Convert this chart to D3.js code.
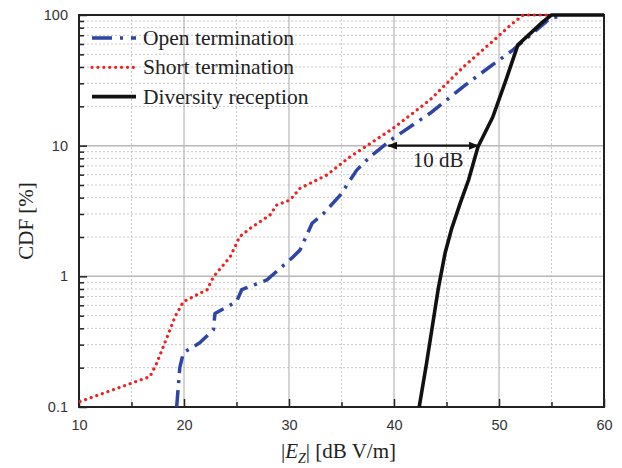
<!DOCTYPE html>
<html lang="en">
<head>
<meta charset="utf-8">
<title>CDF of Ez</title>
<script src="https://d3js.org/d3.v7.min.js"></script>
<style>
  body { margin: 0; background: #fff; }
  svg { display: block; }
</style>
</head>
<body>
<div class="chart"></div>
<script>
// series: field strength (dB V/m) and CDF (%)
const openX  = [19.3, 19.6, 19.94, 21.5, 22.8, 22.95, 25.0, 25.5, 27.9, 30.4, 31.05, 32.2, 33.3, 34.9, 36.45, 37.7, 39.93, 43.43, 46.6, 49.1, 51.2, 54.86, 56.2];
const openY  = [0.1, 0.2, 0.26, 0.31, 0.39, 0.52, 0.64, 0.79, 0.94, 1.41, 1.59, 2.55, 3.03, 4.2, 6.5, 8.2, 11.4, 17.7, 28.3, 40, 53, 94, 100];
const shortX = [10.1, 16.76, 17.4, 18.67, 19.14, 19.94, 22.2, 22.8, 24.4, 25.3, 26.3, 28.2, 28.8, 30.1, 31.05, 33.6, 35.8, 39.93, 43.43, 46.6, 49.5, 51.05, 52.3, 55.0];
const shortY = [0.11, 0.171, 0.216, 0.39, 0.49, 0.64, 0.79, 0.99, 1.41, 2.01, 2.33, 2.95, 3.5, 3.84, 4.72, 5.96, 8.2, 13.6, 22.4, 40, 64, 83, 100, 100];
const divX   = [42.4, 43.1, 44.2, 44.86, 45.5, 46.3, 47.1, 48.0, 49.4, 50.7, 51.8, 54.2, 55.0, 60];
const divY   = [0.1, 0.216, 0.79, 1.5, 2.33, 3.62, 5.46, 9.8, 16.5, 32.5, 59, 89, 100, 100];

const seriesNames = ['Open termination', 'Short termination', 'Diversity reception'];
const xTicks = [10, 20, 30, 40, 50, 60];
const yTicks = [0.1, 1, 10, 100];
const arrowFrom = 39.45, arrowTo = 48.0, arrowLevel = 10;

const width = 622, height = 468;
const margin = {left: 79, right: 18, top: 15, bottom: 61};

const svg = d3.select('.chart').append('svg')
    .attr('width', width)
    .attr('height', height);

const x = d3.scaleLinear().domain([10, 60]).range([margin.left, width - margin.right]);
const y = d3.scaleLog().domain([0.1, 100]).range([height - margin.bottom, margin.top]);

const x0 = x.range()[0], x1 = x.range()[1];
const y0 = y.range()[0], y1 = y.range()[1];

// grid
const minorX = d3.range(15, 60, 10);
const majorX = [20, 30, 40, 50];
let minorY = [];
[0.1, 1, 10].forEach(d => { for (let k = 2; k <= 9; k++) minorY.push(d * k); });

svg.append('g').selectAll('line').data(minorX).join('line')
    .attr('x1', d => x(d)).attr('x2', d => x(d)).attr('y1', y1).attr('y2', y0)
    .attr('stroke', '#c8c8c8').attr('stroke-width', 1).attr('stroke-dasharray', '2,2');
svg.append('g').selectAll('line').data(minorY).join('line')
    .attr('x1', x0).attr('x2', x1).attr('y1', d => y(d)).attr('y2', d => y(d))
    .attr('stroke', '#c8c8c8').attr('stroke-width', 1).attr('stroke-dasharray', '2,2');
svg.append('g').selectAll('line').data(majorX).join('line')
    .attr('x1', d => x(d)).attr('x2', d => x(d)).attr('y1', y1).attr('y2', y0)
    .attr('stroke', '#a8a8a8').attr('stroke-width', 1);
svg.append('g').selectAll('line').data([1, 10]).join('line')
    .attr('x1', x0).attr('x2', x1).attr('y1', d => y(d)).attr('y2', d => y(d))
    .attr('stroke', '#b8b8b8').attr('stroke-width', 1.5);

// axes
const xAxis = svg.append('g')
    .attr('transform', `translate(0,${y0})`)
    .call(d3.axisBottom(x).tickValues(xTicks).tickSize(-8).tickPadding(13).tickFormat(d3.format('d')));
const xMinor = svg.append('g')
    .attr('transform', `translate(0,${y0})`)
    .call(d3.axisBottom(x).tickValues(minorX).tickSize(-5).tickFormat(''));
const yAxis = svg.append('g')
    .attr('transform', `translate(${x0},0)`)
    .call(d3.axisLeft(y).tickValues(yTicks).tickSize(-8).tickPadding(11).tickFormat(d => d < 1 ? '0.1' : d3.format('d')(d)));
const yMinor = svg.append('g')
    .attr('transform', `translate(${x0},0)`)
    .call(d3.axisLeft(y).tickValues(minorY).tickSize(-5).tickFormat(''));

[xAxis, xMinor, yAxis, yMinor].forEach(g => {
    g.select('.domain').remove();
    g.selectAll('.tick line').attr('stroke', '#222').attr('stroke-width', 1.5);
    g.selectAll('text').attr('font-family', 'Liberation Sans, Arial, sans-serif')
        .attr('font-size', 14.5).attr('fill', '#333');
});

// frame
svg.append('rect')
    .attr('x', x0).attr('y', y1)
    .attr('width', x1 - x0).attr('height', y0 - y1)
    .attr('fill', 'none').attr('stroke', '#222').attr('stroke-width', 2);

// curves
svg.append('clipPath').attr('id', 'clip').append('rect')
    .attr('x', x0).attr('y', y1 - 2).attr('width', x1 - x0).attr('height', y0 - y1 + 2);

const line = d3.line().x(d => x(d[0])).y(d => y(d[1]));
const plot = svg.append('g').attr('clip-path', 'url(#clip)');

const styles = [
    {color: '#2e45a6', width: 3.5, dash: '17,7,3,7', cap: 'butt'},
    {color: '#ee2222', width: 3.2, dash: '0.1,5.8', cap: 'round'},
    {color: '#111', width: 3.6, dash: null, cap: 'butt'}
];
const data = [d3.zip(openX, openY), d3.zip(shortX, shortY), d3.zip(divX, divY)];

data.forEach((pts, i) => {
    plot.append('path')
        .datum(pts)
        .attr('d', line)
        .attr('fill', 'none')
        .attr('stroke', styles[i].color)
        .attr('stroke-width', styles[i].width)
        .attr('stroke-dasharray', styles[i].dash)
        .attr('stroke-linecap', styles[i].cap)
        .attr('stroke-linejoin', 'round');
});

// 10 dB arrow
const defs = svg.append('defs');
defs.append('marker').attr('id', 'head')
    .attr('viewBox', '0 0 10 10').attr('refX', 9).attr('refY', 5)
    .attr('markerWidth', 4.5).attr('markerHeight', 4.5)
    .attr('orient', 'auto-start-reverse')
    .append('path').attr('d', 'M0,1 L10,5 L0,9 Z').attr('fill', '#111');

svg.append('line')
    .attr('x1', x(arrowFrom)).attr('x2', x(arrowTo))
    .attr('y1', y(arrowLevel)).attr('y2', y(arrowLevel))
    .attr('stroke', '#111').attr('stroke-width', 2.2)
    .attr('marker-start', 'url(#head)').attr('marker-end', 'url(#head)');

svg.append('text')
    .attr('x', x((arrowFrom + arrowTo) / 2) + 5)
    .attr('y', y(arrowLevel) + 21)
    .attr('text-anchor', 'middle')
    .attr('font-family', 'Liberation Serif, Times New Roman, serif')
    .attr('font-size', 21)
    .attr('fill', '#222')
    .text('10 dB');

// legend
const legend = svg.append('g');
seriesNames.forEach((name, i) => {
    const ly = 38 + i * 29.3;
    legend.append('line')
        .attr('x1', 92).attr('x2', 136).attr('y1', ly).attr('y2', ly)
        .attr('stroke', styles[i].color)
        .attr('stroke-width', styles[i].width)
        .attr('stroke-dasharray', i === 0 ? '20,8,3,8' : styles[i].dash)
        .attr('stroke-linecap', styles[i].cap);
    legend.append('text')
        .attr('x', 143).attr('y', ly + 7)
        .attr('font-family', 'Liberation Serif, Times New Roman, serif')
        .attr('font-size', 21.5)
        .attr('fill', '#222')
        .text(name);
});

// axis titles
svg.append('text')
    .attr('transform', `translate(33,221) rotate(-90)`)
    .attr('text-anchor', 'middle')
    .attr('font-family', 'Liberation Serif, Times New Roman, serif')
    .attr('font-size', 21)
    .attr('fill', '#222')
    .text('CDF [%]');

const xt = svg.append('text')
    .attr('x', (x0 + x1) / 2 - 3)
    .attr('y', 458)
    .attr('text-anchor', 'middle')
    .attr('font-family', 'Liberation Serif, Times New Roman, serif')
    .attr('font-size', 21)
    .attr('fill', '#222');
xt.append('tspan').text('|');
xt.append('tspan').attr('font-style', 'italic').text('E');
xt.append('tspan').attr('font-style', 'italic').attr('font-size', 14).attr('dy', 5).text('Z');
xt.append('tspan').attr('dy', -5).text('| [dB V/m]');
</script>
</body>
</html>
